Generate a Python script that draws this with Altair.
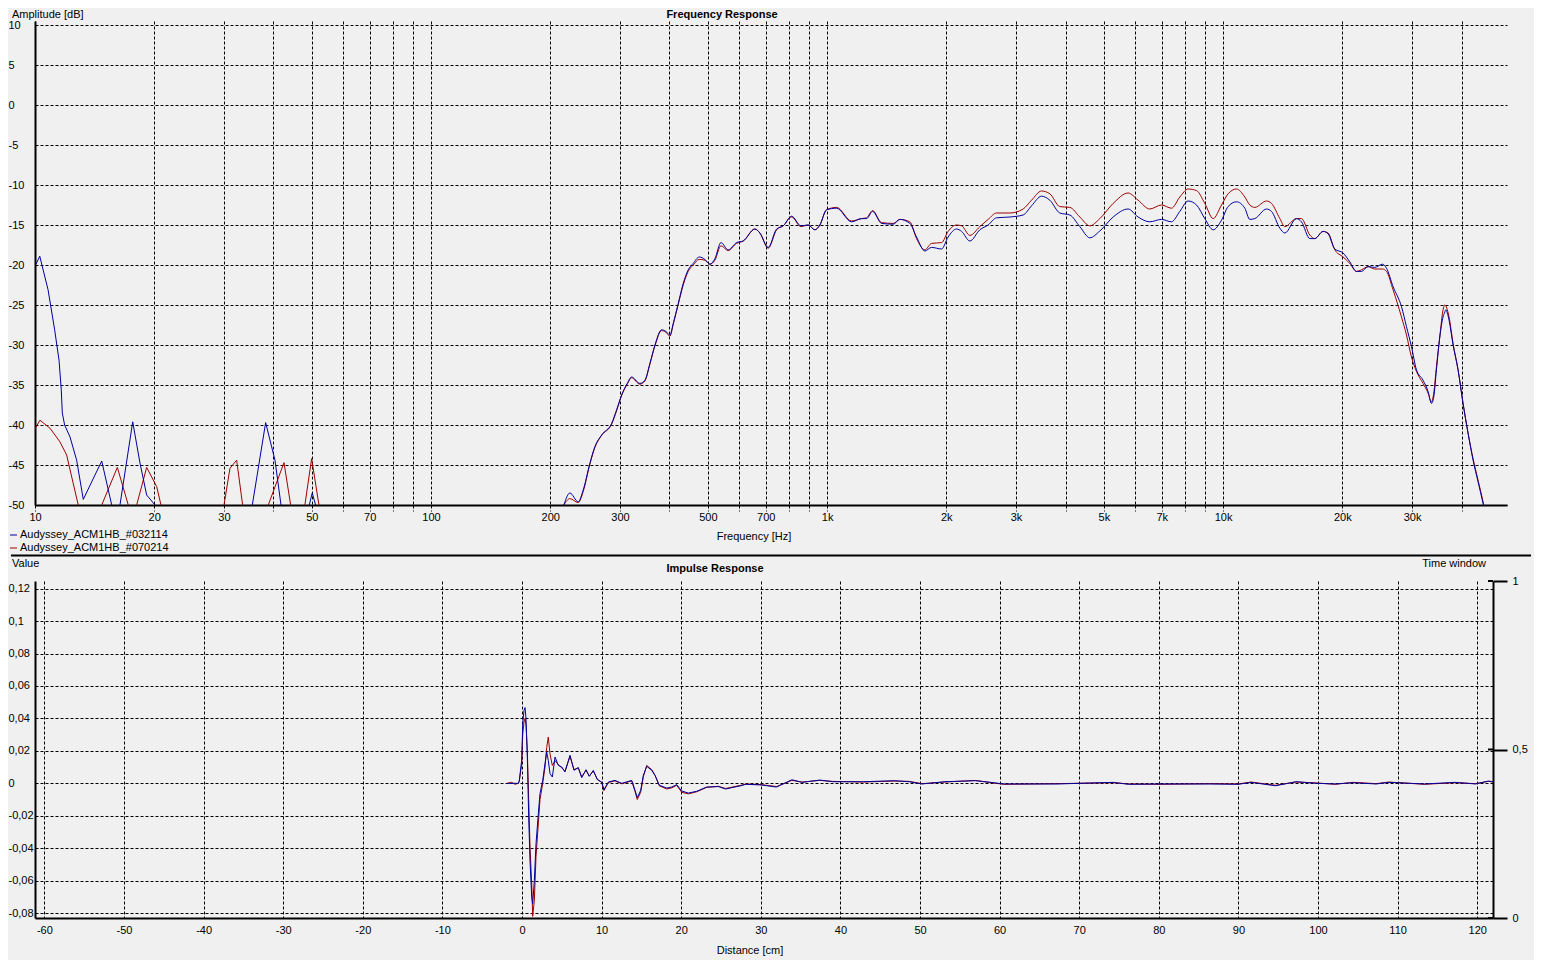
import altair as alt
import pandas as pd

SER_BLUE = "Audyssey_ACM1HB_#032114"
SER_RED = "Audyssey_ACM1HB_#070214"

# ---------------- Frequency response data ----------------
lf_blue_f = [10.06, 10.28, 10.79, 11.21, 11.50, 11.65, 11.72, 11.88, 12.26, 12.74,
             13.24, 14.74, 15.62, 16.0, 16.39, 17.65, 18.41, 19.14, 20.09, 22.0,
             34.0, 35.38, 38.23, 40.36, 41.80, 45.0, 49.27, 50.12, 51.12, 55.0, 200.0]
lf_blue_db = [-19.9, -18.9, -23.1, -28.1, -31.9, -35.6, -38.5, -40.0, -41.5, -44.4,
              -49.3, -44.5, -50.0, -55.0, -50.0, -39.6, -44.75, -48.75, -50.0, -60.0,
              -60.0, -50.0, -39.7, -44.4, -50.0, -60.0, -50.0, -48.5, -50.0, -60.0, -60.0]

lf_red_f = [10.0, 10.29, 10.91, 11.56, 12.02, 12.38, 12.86, 13.8, 14.74, 16.14,
            17.20, 17.6, 18.06, 19.14, 20.29, 20.80, 25.0, 30.01, 31.07, 32.30,
            33.44, 36.0, 38.82, 42.53, 44.21, 46.0, 48.03, 49.94, 52.12, 56.0, 200.0]
lf_red_db = [-40.5, -39.4, -40.4, -42.1, -43.75, -46.5, -50.0, -55.0, -50.0, -45.3,
             -50.0, -53.0, -50.0, -45.3, -47.7, -50.0, -60.0, -50.0, -45.4, -44.4,
             -50.0, -58.0, -50.0, -44.7, -50.0, -55.0, -50.0, -44.2, -50.0, -60.0, -60.0]

main_f = [216.5, 224.2, 235.3, 242.3, 251.8, 259.3, 269.6, 285.8, 294.2, 302.9,
          312.9, 320.9, 336.8, 346.7, 357.0, 367.6, 382.2, 391.7, 401.1, 408.9,
          421.0, 433.3, 446.1, 459.2, 475.5, 491.5, 506.0, 521.0, 539.5, 562.9,
          590.9, 614.0, 657.2, 676.6, 710.2, 745.7, 775.0, 813.8, 858.9, 896.1,
          931.6, 958.9, 997.0, 1056.8, 1153.0, 1222.2, 1258.2, 1302.9, 1373.0, 1468.9,
          1527.2, 1618.1, 1682.3, 1765.6, 1835.7, 1945.7, 2021.5, 2122.7, 2185.7, 2293.5,
          2430.9, 2550.9, 2678.5, 2893.9, 3126.6, 3283.1, 3479.3, 3651.6, 3869.7, 4102.3,
          4347.5, 4607.3, 4883.2, 5277.5, 5755.5, 6100.4, 6529.1, 6989.4, 7406.1, 7774.7,
          8160.1, 8568.4, 8991.7, 9436.0, 9908.2, 10294, 10809, 11345, 11678, 12023,
          12871, 13250, 13909, 14318, 15321, 15772, 16554, 17041, 17884, 18410,
          19143, 20090, 20888, 21718, 22357, 23233, 24155, 25259, 25853, 26866,
          28209, 29040, 29894, 30774, 31980, 32921, 33580, 34031, 34569, 35244,
          35924, 36281, 36491, 36921, 37202, 38077, 39198, 40352, 41540, 42772,
          44032, 45329, 47126]
main_blue_db = [-50.0, -48.5, -49.6, -48.1, -44.8, -42.7, -41.25, -39.8, -38.1, -36.25,
                -34.8, -34.0, -34.8, -34.4, -32.3, -30.0, -28.1, -28.3, -28.75, -27.3,
                -24.8, -22.3, -20.6, -19.8, -19.0, -19.3, -19.9, -19.2, -17.2, -18.1,
                -17.2, -17.0, -15.5, -16.0, -17.8, -15.5, -15.1, -13.9, -15.1, -15.0,
                -15.6, -15.0, -13.1, -12.9, -14.6, -14.2, -14.2, -13.3, -14.8, -14.9,
                -14.3, -14.8, -16.5, -18.25, -17.8, -18.0, -16.5, -15.5, -15.8, -17.0,
                -15.6, -15.0, -14.1, -14.0, -13.75, -12.6, -11.4, -11.9, -13.5, -13.75,
                -15.2, -16.6, -15.75, -14.0, -13.0, -14.0, -14.6, -14.3, -14.6, -13.3,
                -12.0, -12.5, -14.2, -15.6, -14.4, -12.7, -12.1, -12.9, -14.3, -14.2,
                -13.0, -13.3, -15.4, -16.0, -14.2, -14.6, -16.7, -16.7, -15.8, -16.1,
                -18.0, -18.5, -19.6, -20.8, -20.8, -20.2, -20.3, -19.9, -20.4, -22.7,
                -25.2, -27.7, -30.2, -33.1, -34.4, -35.8, -37.3, -36.5, -33.1, -29.0,
                -26.5, -25.9, -25.6, -26.2, -26.9, -30.0, -33.1, -37.3, -41.0, -44.4,
                -47.1, -49.8, -54.0]
main_red_db = [-50.0, -49.2, -49.7, -48.3, -44.9, -42.8, -41.3, -39.9, -38.2, -36.3,
               -34.9, -34.1, -34.9, -34.5, -32.4, -30.1, -28.2, -28.4, -28.9, -27.4,
               -24.9, -22.5, -20.8, -20.0, -19.3, -19.4, -19.9, -19.4, -17.6, -18.2,
               -17.3, -17.0, -15.5, -16.0, -17.9, -15.6, -15.1, -14.0, -15.2, -15.0,
               -15.6, -15.0, -13.1, -12.8, -14.5, -14.2, -14.1, -13.2, -14.7, -14.8,
               -14.3, -14.6, -16.7, -18.1, -17.3, -17.2, -15.8, -15.0, -15.1, -16.3,
               -15.2, -14.3, -13.5, -13.5, -13.0, -11.9, -10.75, -11.1, -12.7, -12.8,
               -14.0, -15.1, -14.2, -12.3, -11.0, -11.9, -13.0, -12.5, -12.9, -11.5,
               -10.5, -10.7, -12.3, -14.2, -12.5, -11.1, -10.5, -11.5, -12.5, -12.8,
               -12.0, -12.3, -14.2, -15.2, -14.2, -14.2, -16.25, -16.7, -15.8, -16.0,
               -18.1, -19.0, -19.8, -20.8, -20.6, -20.2, -20.5, -20.5, -20.8, -23.1,
               -26.5, -28.75, -31.5, -33.3, -34.8, -36.0, -37.1, -36.0, -32.7, -29.0,
               -25.6, -25.0, -25.1, -25.8, -26.5, -29.8, -33.1, -37.3, -41.0, -44.2,
               -46.9, -49.6, -54.0]

# ---------------- Impulse response data ----------------
ir_cm = [-1.88, -1.3, -0.88, -0.46, -0.34, -0.04, 0.09, 0.25, 0.38, 0.5,
         0.67, 0.84, 1.01, 1.22, 1.34, 1.55, 1.76, 2.05, 2.26, 2.6,
         2.89, 3.1, 3.3, 3.52, 3.81, 4.15, 4.56, 4.99, 5.4, 6.03,
         6.53, 7.07, 7.5, 8.04, 8.45, 8.96, 9.46, 10.01, 10.3, 10.84,
         11.68, 12.53, 13.07, 13.78, 14.2, 14.48, 14.91, 15.24, 15.67, 16.29,
         16.71, 17.25, 18.18, 18.81, 19.43, 20.06, 20.89, 21.95, 23.2, 24.66,
         25.57, 27.49, 28.13, 30.05, 31.97, 33.9, 35.18, 37.42, 39.03, 42.88,
         46.72, 48.64, 50.24, 53.13, 56.97, 58.9, 60.5, 67.22, 74.28, 76.21,
         80.05, 86.46, 89.99, 91.58, 94.66, 97.22, 99.92, 102.16, 104.41, 107.29,
         108.89, 113.38, 117.22, 119.79, 121.39, 122.0]
ir_blue = [0.0, 0.0, 0.0, 0.0, 0.0018, 0.0142, 0.0368, 0.045, 0.0467, 0.040,
           0.0162, -0.0208, -0.0485, -0.0701, -0.0742, -0.0598, -0.0372, -0.0187, -0.0064, 0.0018,
           0.0121, 0.0193, 0.0142, 0.006, 0.0039, 0.0162, 0.0111, 0.0101, 0.007, 0.0173,
           0.008, 0.0097, 0.0035, 0.0084, 0.0043, 0.008, 0.0023, 0.0008, -0.0039, 0.0008,
           0.0018, 0.0, 0.0008, 0.0018, -0.0043, -0.0088, -0.0043, 0.0049, 0.0105, 0.008,
           0.0049, -0.0012, -0.0029, -0.0023, -0.0008, -0.0047, -0.006, -0.0049, -0.0023, -0.002,
           -0.0035, -0.0015, -0.0006, -0.001, -0.0023, 0.0022, 0.0006, 0.002, 0.001, 0.001,
           0.0016, 0.001, -0.0004, 0.001, 0.0016, 0.0006, -0.0004, -0.0004, 0.0006, -0.0006,
           -0.0004, -0.0004, -0.0006, 0.0006, -0.0015, 0.001, 0.0, -0.0004, 0.0004, -0.0004,
           0.0006, -0.0004, 0.0006, -0.0004, 0.0014, 0.001]
ir_red = [0.0, 0.0006, -0.0006, 0.0, 0.0012, 0.0120, 0.030, 0.0378, 0.040, 0.036,
          0.020, -0.010, -0.040, -0.062, -0.082, -0.072, -0.045, -0.025, -0.010, 0.0,
          0.010, 0.022, 0.0285, 0.018, 0.011, 0.014, 0.0115, 0.0095, 0.0075, 0.0165,
          0.0085, 0.0095, 0.004, 0.0080, 0.0045, 0.0075, 0.0025, 0.0005, -0.0045, 0.0005,
          0.0015, -0.0003, 0.0005, 0.0015, -0.005, -0.010, -0.0055, 0.0040, 0.0110, 0.0085,
          0.0050, -0.0015, -0.0035, -0.0028, -0.0012, -0.0055, -0.0065, -0.0052, -0.0025, -0.0018,
          -0.0032, -0.0012, -0.0004, -0.0008, -0.002, 0.0018, 0.0008, 0.0018, 0.0012, 0.0008,
          0.0014, 0.0012, -0.0002, 0.0008, 0.0018, 0.0004, -0.0006, -0.0002, 0.0004, -0.0004,
          -0.0006, -0.0002, -0.0004, 0.0008, -0.0012, 0.0008, 0.0002, -0.0006, 0.0006, -0.0002,
          0.0008, -0.0006, 0.0004, -0.0002, 0.0012, 0.0008]

# ---------------- Axis ticks / labels ----------------
grid_freqs = [10, 20, 30, 40, 50, 60, 70, 80, 90,
              100, 200, 300, 400, 500, 600, 700, 800, 900,
              1000, 2000, 3000, 4000, 5000, 6000, 7000, 8000, 9000,
              10000, 20000, 30000, 40000]
freq_labels = [10, 20, 30, 50, 70, 100, 200, 300, 500, 700,
               1000, 2000, 3000, 5000, 7000, 10000, 20000, 30000]
db_ticks = [-50, -45, -40, -35, -30, -25, -20, -15, -10, -5, 0, 5, 10]
cm_ticks = [-60, -50, -40, -30, -20, -10, 0, 10, 20, 30, 40, 50, 60, 70, 80, 90, 100, 110, 120]
val_ticks = [-0.08, -0.06, -0.04, -0.02, 0, 0.02, 0.04, 0.06, 0.08, 0.1, 0.12]
tw_ticks = [0, 0.5, 1]

FONT = "Liberation Sans"
BLUE = "#0000A0"
RED = "#A00000"
BG = "#F0F0F0"
W1, H1 = 1472, 484
W2, H2 = 1458, 337
DASH = [3, 2]


def txt(text, x, y, align="left", bold=False, baseline="middle"):
    return alt.Chart(pd.DataFrame({"t": [text]})).mark_text(
        align=align, baseline=baseline, font=FONT, fontSize=11,
        fontWeight="bold" if bold else "normal", color="black"
    ).encode(x=alt.value(x), y=alt.value(y), text="t:N")


def hline(x1, x2, y, color, width=1):
    return alt.Chart(pd.DataFrame({"a": [0]})).mark_rule(color=color, strokeWidth=width).encode(
        x=alt.value(x1), x2=alt.value(x2), y=alt.value(y))


def box(x1, x2, y1, y2):
    return alt.Chart(pd.DataFrame({"a": [0]})).mark_rect(color=BG).encode(
        x=alt.value(x1), x2=alt.value(x2), y=alt.value(y1), y2=alt.value(y2))


# ---------------- Top panel ----------------
# low-frequency fragments (drawn straight) + measured band (drawn smooth)
lfb = pd.DataFrame({"f": lf_blue_f + main_f[:1], "db": lf_blue_db + main_blue_db[:1]})
lfr = pd.DataFrame({"f": lf_red_f + main_f[:1], "db": lf_red_db + main_red_db[:1]})
mb = pd.DataFrame({"f": main_f, "db": main_blue_db})
mr = pd.DataFrame({"f": main_f, "db": main_red_db})
for d in (lfb, lfr, mb, mr):
    d["i"] = range(len(d))

lab_list = ",".join(str(v) for v in freq_labels)
freq_label_expr = (f"indexof([{lab_list}], datum.value) >= 0 ? "
                   "(datum.value >= 1000 ? (datum.value / 1000) + 'k' : '' + datum.value) : ''")

x_top = alt.X("f:Q", scale=alt.Scale(type="log", domain=[10, 52100], nice=False),
              axis=alt.Axis(values=grid_freqs, labelExpr=freq_label_expr, title=None,
                            ticks=True, tickSize=6, tickDash=DASH, tickColor="black", tickWidth=1,
                            grid=True, labelPadding=0, labelOverlap=False, labelFlush=False))
y_top = alt.Y("db:Q", scale=alt.Scale(domain=[-50, 10.5], nice=False, zero=False),
              axis=alt.Axis(values=db_ticks, labelExpr="'' + datum.value", title=None,
                            ticks=False, grid=True, labelAlign="left", labelPadding=27,
                            labelBaseline="middle", labelOverlap=False, labelFlush=False))


def fr_line(df, color, interp="linear"):
    return alt.Chart(df).mark_line(clip=True, strokeWidth=1, color=color, interpolate=interp).encode(
        x=x_top, y=y_top, order="i:Q")


top = alt.layer(
    fr_line(lfr, RED),
    fr_line(mr, RED, "monotone"),
    fr_line(lfb, BLUE),
    fr_line(mb, BLUE, "monotone"),
    box(-27, -26, -13, -12),
    box(1498, 1499, 0, 1),
    txt("Amplitude [dB]", -23, -12, baseline="top"),
    txt("Frequency Response", 687, -12, align="center", bold=True, baseline="top"),
    txt("Frequency [Hz]", 719, 516, align="center"),
    hline(-25, -18, 514, BLUE),
    txt(SER_BLUE, -15, 514),
    hline(-25, -18, 527, RED),
    txt(SER_RED, -15, 527),
    hline(-24, 1496, 534.5, "black", 2),
).properties(width=W1, height=H1)

# ---------------- Bottom panel ----------------
ir_b = pd.DataFrame({"cm": ir_cm, "v": ir_blue})
ir_r = pd.DataFrame({"cm": ir_cm, "v": ir_red})

x_bot = alt.X("cm:Q", scale=alt.Scale(domain=[-61.18, 121.98], nice=False, zero=False),
              axis=alt.Axis(values=cm_ticks, labelExpr="'' + datum.value", title=None,
                            ticks=False, grid=True, labelPadding=6, labelOverlap=False,
                            labelFlush=False))
y_bot = alt.Y("v:Q", scale=alt.Scale(domain=[-0.083, 0.1247], nice=False, zero=False),
              axis=alt.Axis(values=val_ticks, labelExpr="replace('' + datum.value, '.', ',')",
                            title=None, ticks=False, grid=True, labelAlign="left",
                            labelPadding=27, labelBaseline="middle", labelOverlap=False,
                            labelFlush=False))


def ir_line(df, color):
    return alt.Chart(df).mark_line(clip=True, strokeWidth=1, color=color).encode(x=x_bot, y=y_bot)


inner = alt.layer(
    ir_line(ir_r, RED),
    ir_line(ir_b, BLUE),
    box(0, 1, 378, 379),
    txt("Value", -23, -17),
    txt("Impulse Response", 680, -12, align="center", bold=True),
    txt("Time window", 1451, -17, align="right"),
    txt("Distance [cm]", 715, 370, align="center"),
)

tw = alt.Chart(pd.DataFrame({"tw": tw_ticks})).mark_rule(color="black", strokeWidth=2).encode(
    x=alt.value(W2 - 5), x2=alt.value(W2),
    y=alt.Y("tw:Q", scale=alt.Scale(domain=[0, 1], nice=False, zero=False),
            axis=alt.Axis(orient="right", values=tw_ticks, title=None,
                          labelExpr="replace('' + datum.value, '.', ',')",
                          ticks=True, tickSize=14, tickWidth=2, tickColor="black",
                          grid=False, labelPadding=5, labelOverlap=False, labelFlush=False)))

bottom = alt.layer(inner, tw).resolve_scale(y="independent").properties(width=W2, height=H2)

chart = alt.vconcat(top, bottom, spacing=76, bounds="flush").properties(
    padding=0
).configure(
    background=BG,
    font=FONT,
).configure_view(
    stroke=None
).configure_axis(
    labelFont=FONT, labelFontSize=11, labelColor="black",
    domainColor="black", domainWidth=2,
    gridColor="black", gridDash=DASH, gridOpacity=1, gridWidth=1,
)

chart.save("out.html", embed_options={"renderer": "svg", "actions": False})
